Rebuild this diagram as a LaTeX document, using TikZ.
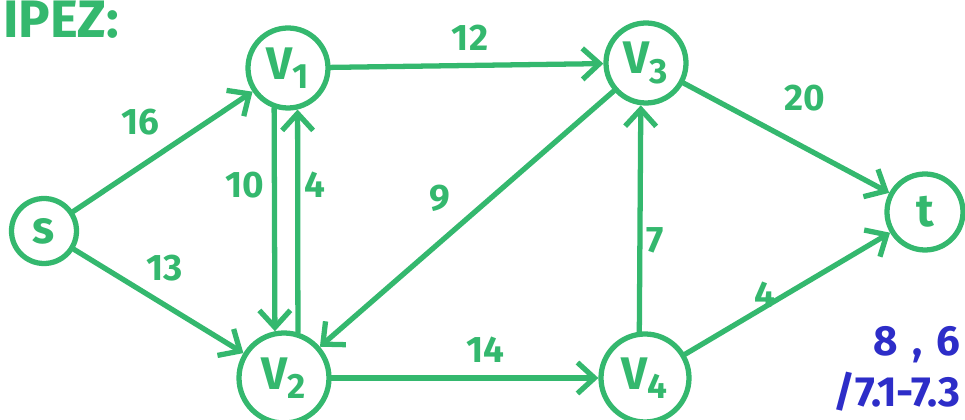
\documentclass[tikz,border=0pt]{standalone}
\usepackage{fontspec}
\setmainfont{Fira Sans}
\usepackage{tikz}
\usetikzlibrary{arrows.meta}
\definecolor{marker}{RGB}{52,184,110}
\definecolor{pen}{RGB}{45,45,200}

\begin{document}
\begin{tikzpicture}[>={Straight Barb[length=0.34cm,width=0.62cm]},
    vtx/.style={draw=marker, line width=3pt, circle, minimum size=1.6cm, inner sep=0pt, font=\fontsize{26}{26}\selectfont\bfseries, text=marker},
    lbl/.style={font=\fontsize{21}{21}\selectfont\bfseries, text=marker, inner sep=1pt},
    flow/.style={->, draw=marker, line width=3pt, line cap=round}]
    \useasboundingbox (0,0) rectangle (19.3,8.4);
    \node[font=\fontsize{30}{30}\selectfont\bfseries, text=marker, anchor=west, inner sep=1pt] (title) at (0.02,8.0) {IPEZ:};
    \node[vtx, minimum size=1.3cm] (s) at (0.88,3.78) {s};
    \node[vtx] (v1) at (5.76,7.04) {V\textsubscript{\fontsize{20}{20}\selectfont 1}};
    \node[vtx, minimum size=1.8cm] (v2) at (5.68,0.84) {V\textsubscript{\fontsize{20}{20}\selectfont 2}};
    \node[vtx] (v3) at (12.92,7.14) {V\textsubscript{\fontsize{20}{20}\selectfont 3}};
    \node[vtx, minimum size=1.76cm] (v4) at (12.9,0.84) {V\textsubscript{\fontsize{20}{20}\selectfont 4}};
    \node[vtx, minimum size=1.52cm] (t) at (18.5,4.16) {t};
    \draw[flow] (s) -- (v1);
    \draw[flow] (s) -- (v2);
    \draw[flow] (v1.251) -- (v2.101);
    \draw[flow] (v2.73) -- (v1.283);
    \draw[flow] (v1) -- (v3);
    \draw[flow] (v3) -- (v2);
    \draw[flow] (v2) -- (v4);
    \draw[flow] (v4.97) -- (v3.263);
    \draw[flow] (v3) -- (t);
    \draw[flow] (v4) -- (t);
    \node[lbl] (sv1) at (2.8,5.96) {16};
    \node[lbl] (sv2) at (3.3,3.04) {13};
    \node[lbl] (v1v2) at (4.9,4.7) {10};
    \node[lbl] (v2v1) at (6.3,4.7) {4};
    \node[lbl] (v1v3) at (9.4,7.64) {12};
    \node[lbl] (v3v2) at (8.8,4.44) {9};
    \node[lbl] (v2v4) at (9.7,1.4) {14};
    \node[lbl] (v4v3) at (13.1,3.6) {7};
    \node[lbl] (v3t) at (16.1,6.44) {20};
    \node[lbl] (v4t) at (15.3,2.5) {4};
    \node[font=\fontsize{24}{24}\selectfont\bfseries, text=pen, anchor=east, inner sep=1pt] (sec) at (19.25,1.5) {8\,\,,\,\,6};
    \node[font=\fontsize{24}{24}\selectfont\bfseries, text=pen, anchor=east, inner sep=1pt] (refs) at (19.25,0.56) {/7.1-7.3};
  \end{tikzpicture}
\end{document}
